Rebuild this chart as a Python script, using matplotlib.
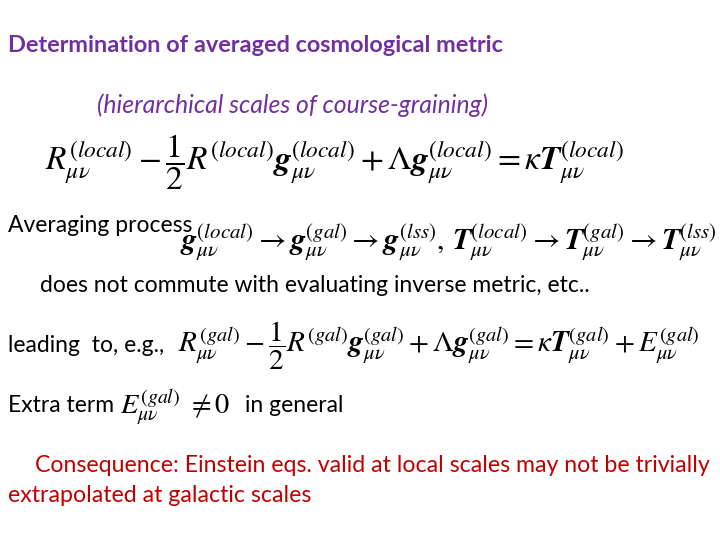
import matplotlib
matplotlib.use('agg')
import matplotlib.pyplot as plt

plt.rcParams['mathtext.fontset'] = 'stix'
plt.rcParams['font.family'] = ['Lato', 'DejaVu Sans']

purple = '#7030A0'
red = '#C00000'

title = "Determination of averaged cosmological metric"
subtitle = "(hierarchical scales of course-graining)"
eq1 = (r"$R^{(local)}_{\mu\nu}-\dfrac{1}{2}R^{(local)}\mathbfit{g}^{(local)}_{\mu\nu}"
       r"+\Lambda\mathbfit{g}^{(local)}_{\mu\nu}=\kappa\mathbfit{T}^{(local)}_{\mu\nu}$")
eq2 = (r"$\mathbfit{g}^{(local)}_{\mu\nu}\rightarrow\mathbfit{g}^{(gal)}_{\mu\nu}\rightarrow"
       r"\mathbfit{g}^{(lss)}_{\mu\nu},\,\mathbfit{T}^{(local)}_{\mu\nu}\rightarrow"
       r"\mathbfit{T}^{(gal)}_{\mu\nu}\rightarrow\mathbfit{T}^{(lss)}_{\mu\nu}$")
eq3 = (r"$R^{(gal)}_{\mu\nu}-\dfrac{1}{2}R^{(gal)}\mathbfit{g}^{(gal)}_{\mu\nu}"
       r"+\Lambda\mathbfit{g}^{(gal)}_{\mu\nu}=\kappa\mathbfit{T}^{(gal)}_{\mu\nu}+E^{(gal)}_{\mu\nu}$")
eq4 = r"$E^{(gal)}_{\mu\nu}\ \neq 0$"
lines = [
    # (x px, y px, text, colour, style, weight, size)
    (8, 45, title, purple, 'normal', 'bold', 16.9),
    (97, 105, subtitle, purple, 'italic', 'normal', 17.8),
    (45, 162, eq1, 'black', 'normal', 'normal', 24),
    (8, 225, "Averaging process", 'black', 'normal', 'normal', 16.5),
    (180, 243, eq2, 'black', 'normal', 'normal', 21.5),
    (40, 285, "does not commute with evaluating inverse metric, etc..", 'black', 'normal', 'normal', 16.5),
    (8, 345, "leading  to, e.g.,", 'black', 'normal', 'normal', 16.5),
    (178, 346, eq3, 'black', 'normal', 'normal', 21),
    (8, 405, "Extra term", 'black', 'normal', 'normal', 16.5),
    (120, 407, eq4, 'black', 'normal', 'normal', 20.5),
    (245, 405, "in general", 'black', 'normal', 'normal', 16.5),
    (35, 465, "Consequence: Einstein eqs. valid at local scales may not be trivially", red, 'normal', 'normal', 16.7),
    (8, 495, "extrapolated at galactic scales", red, 'normal', 'normal', 16.7),
]

fig = plt.figure(figsize=(7.2, 5.4), dpi=100)
for x, y, s, c, st, w, fs in lines:
    fig.text(x / 720, 1 - y / 540, s, color=c, style=st, weight=w, fontsize=fs,
             ha='left', va='center')
fig.savefig('out.png', dpi=100)
